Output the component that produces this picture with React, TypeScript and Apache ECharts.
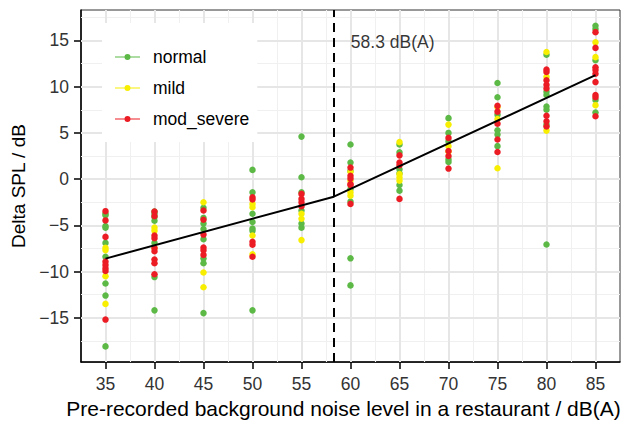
import React, { useEffect, useRef } from "react";
import * as echarts from "echarts";

// ---- data ----
const noiseLevels = [35, 40, 45, 50, 55, 60, 65, 70, 75, 80, 85];

const normalValues: number[][] = [
  [-3.75, -3.9, -5.07, -5.25, -6.9, -8.4, -11.3, -12.6, -18.1],
  [-3.5, -3.75, -4.1, -4.5, -6.9, -10.6, -14.2],
  [-3.1, -4.2, -4.8, -5.4, -6.5, -8.6, -9.1, -14.5],
  [1.0, -1.43, -3.75, -4.64, -5.35, -5.6, -14.2],
  [4.6, 0.2, -1.43, -3.4, -4.8, -5.25],
  [3.75, 1.8, 0.89, -1.07, -2.43, -8.57, -11.5],
  [3.75, 2.9, 1.07, 0.64, -0.64, -1.25],
  [6.6, 5.0, 4.1, 2.14, 1.86],
  [10.4, 8.86, 6.96, 5.28, 4.82, 3.57],
  [13.46, 9.46, 9.1, 7.86, 7.5, 5.9, -7.07],
  [16.6, 16.25, 12.86, 8.57, 7.2],
];

const mildValues: number[][] = [
  [-7.43, -7.68, -10.5, -13.5],
  [-5.25, -5.6, -7.45],
  [-2.5, -10.1, -11.7],
  [-2.68, -3.05, -6.1, -8.14],
  [-3.75, -4.29, -6.6],
  [-0.18, 0.79, -1.43, -1.79],
  [4.0, 0.54, 0.18, -0.18],
  [5.9, 3.57, 3.0],
  [7.8, 6.5, 1.18],
  [13.75, 11.07, 5.25],
  [14.8, 13.2, 8.0],
];

const modSevereValues: number[][] = [
  [-3.47, -4.47, -6.25, -8.93, -9.29, -9.64, -9.93, -15.2],
  [-3.5, -4.0, -6.1, -6.4, -7.45, -7.8, -8.7, -9.1, -10.3],
  [-3.4, -4.4, -6.0, -7.4, -7.7, -8.2],
  [-1.96, -2.2, -6.78, -7.1, -8.4],
  [-1.6, -2.14, -2.5, -2.93],
  [1.25, 0.36, 0.07, -0.54, -0.64, -2.68],
  [2.57, 1.79, 1.5, -2.14],
  [4.46, 3.04, 2.5, 1.14],
  [7.93, 7.3, 6.0, 4.29, 2.93],
  [11.86, 11.6, 10.7, 10.2, 9.8, 6.86, 6.25, 5.7],
  [15.9, 14.2, 12.1, 11.8, 11.4, 10.5, 9.1, 8.86, 6.8],
];

const seriesNames = ["normal", "mild", "mod_severe"];
const seriesColors = ["#5cb946", "#f7ee00", "#ec1c24"];

// segmented regression fit
const fitX = [35, 58.3, 85];
const fitY = [-8.6, -1.9, 11.25];

const breakpoint = 58.3;
const annotationX = 64.3;
const annotationY = 14.8;
const annotationText = "58.3 dB(A)";

const xTicks = [35, 40, 45, 50, 55, 60, 65, 70, 75, 80, 85];
const yTicks = [-15, -10, -5, 0, 5, 10, 15];
const xMinor = [37.5, 42.5, 47.5, 52.5, 57.5, 62.5, 67.5, 72.5, 77.5, 82.5];
const yMinor = [-17.5, -12.5, -7.5, -2.5, 2.5, 7.5, 12.5, 17.5];
const xRange = [32.5, 87.5];
const yRange = [-19.8, 18.3];

const xTitle = "Pre-recorded background noise level in a restaurant / dB(A)";
const yTitle = "Delta SPL / dB";

const FONT = "'Liberation Sans', Arial, Helvetica, sans-serif";

function buildPoints(values: number[][]) {
  const out: number[][] = [];
  values.forEach((col, i) => col.forEach((v) => out.push([noiseLevels[i], v])));
  return out;
}

const legendIcon =
  "path://M0,2.4 L25,2.4 L25,3.6 L0,3.6 Z M9.5,3 A3,3 0 1,1 15.5,3 A3,3 0 1,1 9.5,3 Z";

export default function App() {
  const ref = useRef<HTMLDivElement>(null);
  useEffect(() => {
    if (!ref.current) return;
    const chart = echarts.init(ref.current, undefined, { renderer: "svg" });

    const majorLine = { color: "#e6e6e6", width: 2, type: "solid" };
    const minorLine = { color: "#f0f0f0", width: 1.1, type: "solid" };
    const gridLines: any[] = [
      ...xMinor.map((v) => ({ xAxis: v, lineStyle: minorLine })),
      ...yMinor.filter((v) => v > yRange[0] && v < yRange[1]).map((v) => ({ yAxis: v, lineStyle: minorLine })),
      ...xTicks.map((v) => ({ xAxis: v, lineStyle: majorLine })),
      ...yTicks.map((v) => ({ yAxis: v, lineStyle: majorLine })),
    ];

    const valueSeries = [normalValues, mildValues, modSevereValues].map((vals, i) => ({
      name: seriesNames[i],
      type: "scatter",
      data: buildPoints(vals),
      symbol: "circle",
      symbolSize: 6.5,
      itemStyle: { color: seriesColors[i], opacity: 1 },
      z: 3,
    }));

    const option: any = {
      animation: false,
      backgroundColor: "#ffffff",
      textStyle: { fontFamily: FONT },
      grid: {
        left: 81,
        right: 6,
        top: 10,
        bottom: 61,
        show: true,
        backgroundColor: "#ffffff",
        borderColor: "#333333",
        borderWidth: 1,
      },
      xAxis: {
        type: "value",
        min: xRange[0],
        max: xRange[1],
        name: xTitle,
        nameLocation: "middle",
        nameGap: 33,
        nameTextStyle: { fontSize: 21, color: "#000", fontFamily: FONT, padding: [0, 14, 0, 0] },
        axisLine: { show: true, onZero: false, lineStyle: { color: "#000", width: 1.5 } },
        axisTick: { show: true, length: 7, customValues: xTicks, lineStyle: { color: "#000", width: 1.5 } },
        axisLabel: { customValues: xTicks, fontSize: 17.5, color: "#333", margin: 13, fontFamily: FONT },
        splitLine: { show: false },
      },
      yAxis: {
        type: "value",
        min: yRange[0],
        max: yRange[1],
        name: yTitle,
        nameLocation: "middle",
        nameGap: 50,
        nameTextStyle: { fontSize: 19, color: "#000", fontFamily: FONT },
        axisLine: { show: true, onZero: false, lineStyle: { color: "#000", width: 1.5 } },
        axisTick: { show: true, length: 7, customValues: yTicks, lineStyle: { color: "#000", width: 1.5 } },
        axisLabel: {
          customValues: yTicks,
          fontSize: 17.5,
          color: "#333",
          margin: 12,
          fontFamily: FONT,
          formatter: (v: number) => (v < 0 ? "\u2212" + Math.abs(v) : String(v)),
        },
        splitLine: { show: false },
      },
      legend: {
        data: seriesNames,
        orient: "vertical",
        left: 102,
        top: 23,
        padding: [25, 8, 14, 13],
        itemGap: 13,
        itemWidth: 25,
        itemHeight: 6,
        icon: legendIcon,
        backgroundColor: "#ffffff",
        textStyle: { fontSize: 17.5, color: "#000", fontFamily: FONT, padding: [0, 0, 0, 8] },
        selectedMode: false,
      },
      series: [
        ...valueSeries,
        {
          name: "fit",
          type: "line",
          data: fitX.map((x, i) => [x, fitY[i]]),
          showSymbol: false,
          symbol: "none",
          lineStyle: { color: "#000", width: 2 },
          z: 4,
          silent: true,
          markLine: {
            silent: true,
            symbol: "none",
            z: 1,
            label: { show: false },
            emphasis: { disabled: true },
            data: gridLines,
          },
        },
        {
          name: "annotation",
          type: "scatter",
          data: [[annotationX, annotationY]],
          symbolSize: 0,
          silent: true,
          label: {
            show: true,
            position: "inside",
            formatter: annotationText,
            fontSize: 17.5,
            color: "#000",
            fontFamily: FONT,
          },
          markLine: {
            silent: true,
            symbol: "none",
            z: 4,
            label: { show: false },
            data: [{ xAxis: breakpoint }],
            lineStyle: { color: "#000", width: 2, type: [9, 6] },
          },
        },
      ],
    };
    chart.setOption(option);
    return () => chart.dispose();
  }, []);
  return (
    <div
      ref={ref}
      style={{ width: 626, height: 424, position: "fixed", left: 0, top: 0 }}
    />
  );
}
